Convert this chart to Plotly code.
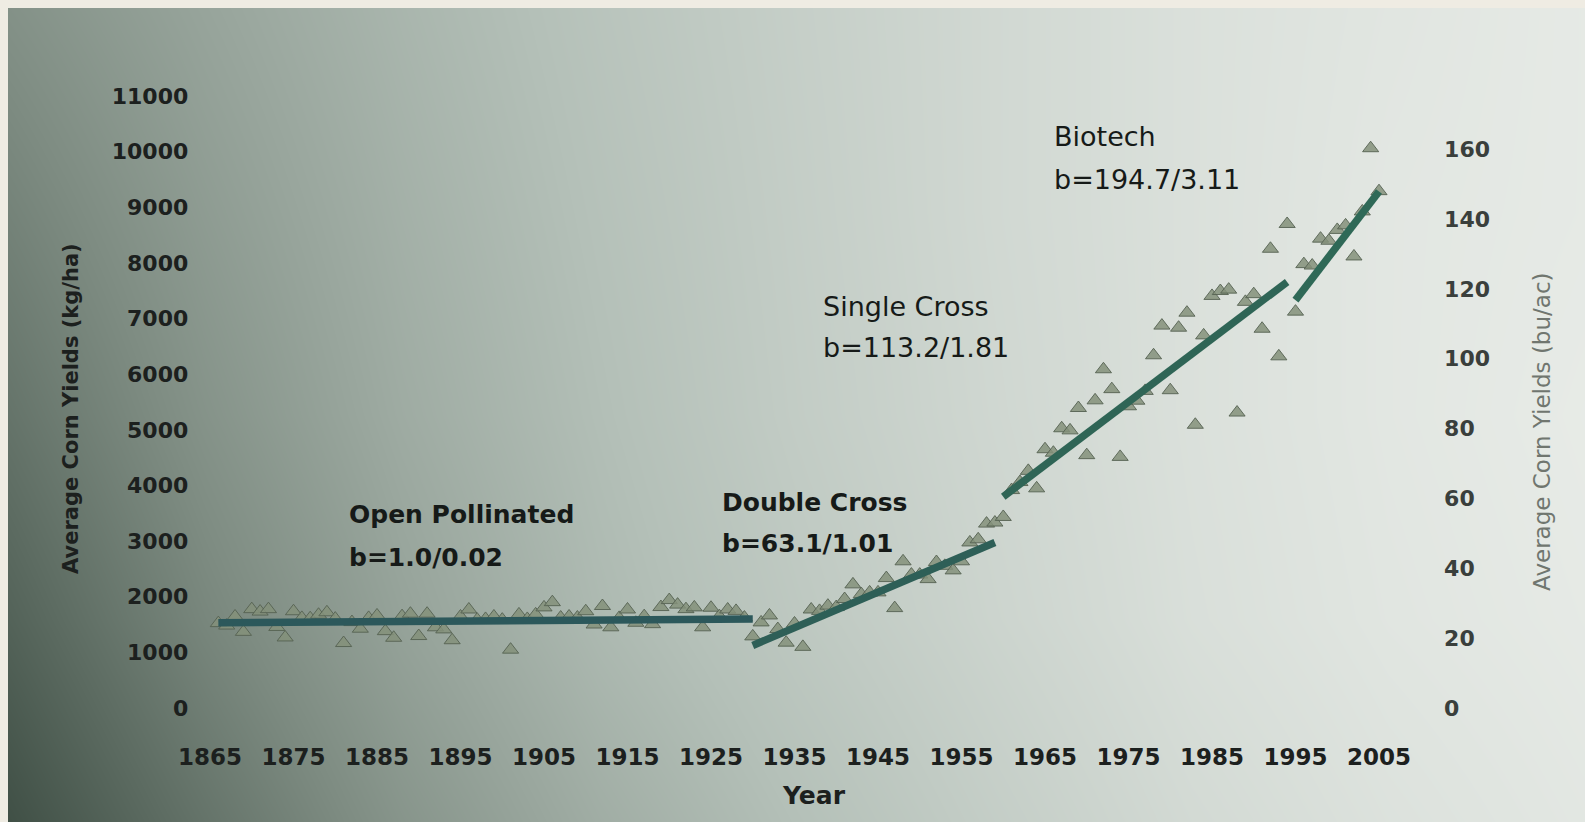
import plotly.graph_objects as go

# ---------------- data ----------------
years = list(range(1866, 2006))
yield_bu = [
    24.3, 23.6, 26.2, 21.8, 28.3, 27.6, 28.3, 23.2, 20.2, 27.7,   # 1866-1875
    25.8, 25.7, 26.7, 27.4, 25.6, 18.6, 24.6, 22.7, 25.8, 26.5,   # 1876-1885
    22.0, 20.1, 26.3, 27.0, 20.6, 27.0, 23.1, 22.5, 19.4, 26.2,   # 1886-1895
    28.2, 25.3, 25.5, 26.2, 25.3, 16.7, 26.8, 25.5, 26.8, 28.8,   # 1896-1905
    30.3, 25.9, 26.2, 25.9, 27.7, 23.9, 29.2, 23.1, 25.8, 28.2,   # 1906-1915
    24.4, 26.3, 24.0, 28.9, 30.9, 29.6, 28.3, 28.8, 23.1, 28.7,   # 1916-1925
    26.3, 28.2, 27.8, 25.9, 20.5, 24.5, 26.5, 22.6, 18.7, 24.2,   # 1926-1935
    17.5, 28.2, 27.8, 29.3, 28.9, 31.2, 35.4, 32.6, 33.1, 33.1,   # 1936-1945
    37.2, 28.6, 42.0, 38.2, 38.2, 36.9, 41.8, 40.7, 39.4, 42.0,   # 1946-1955
    47.4, 48.3, 52.8, 53.1, 54.7, 62.4, 64.7, 67.9, 62.9, 74.1,   # 1956-1965
    73.1, 80.1, 79.5, 85.9, 72.4, 88.1, 97.0, 91.3, 71.9, 86.4,   # 1966-1975
    88.0, 90.8, 101.0, 109.5, 91.0, 108.9, 113.2, 81.1, 106.7, 118.0,  # 1976-1985
    119.4, 119.8, 84.6, 116.3, 118.5, 108.6, 131.5, 100.7, 138.6, 113.5,  # 1986-1995
    127.1, 126.7, 134.4, 133.8, 136.9, 138.2, 129.3, 142.2, 160.3, 148.0,  # 1996-2005
]

seg_open_years = [1866, 1930]
seg_open_bu = [24.4, 25.5]
seg_double_years = [1930, 1959]
seg_double_bu = [17.9, 47.4]
seg_single_years = [1960, 1994]
seg_single_bu = [60.5, 122.0]
seg_biotech_years = [1995, 2005]
seg_biotech_bu = [116.8, 147.9]

x_ticks = list(range(1865, 2006, 10))
kg_ticks = list(range(0, 11001, 1000))
bu_ticks = list(range(0, 161, 20))

labels = [
    ("Open Pollinated", "b=1.0/0.02"),
    ("Double Cross", "b=63.1/1.01"),
    ("Single Cross", "b=113.2/1.81"),
    ("Biotech", "b=194.7/3.11"),
]

# ---------------- layout geometry ----------------
W, H = 1585, 822
KG_PER_BU = 62.77
X_RANGE = [1863, 2011]
Y_RANGE = [-200, 11200]
px_left, px_right = 193.3, 1429.1
px_top, px_bottom = 84.9, 719.1

fig = go.Figure()

# background gradient (dark at bottom-left, light at right)
bg_x = [0, 0.125, 0.25, 0.375, 0.5, 0.625, 0.75, 0.875, 1.0]
bg_y = [0, 0.25, 0.5, 0.75, 1.0]
bg_z = [
    [0.03, 0.22, 0.40, 0.54, 0.65, 0.75, 0.84, 0.90, 0.94],
    [0.13, 0.32, 0.48, 0.61, 0.71, 0.80, 0.88, 0.93, 0.96],
    [0.22, 0.39, 0.53, 0.64, 0.74, 0.82, 0.89, 0.94, 0.97],
    [0.30, 0.44, 0.56, 0.66, 0.75, 0.83, 0.89, 0.94, 0.96],
    [0.38, 0.49, 0.59, 0.68, 0.76, 0.83, 0.89, 0.93, 0.96],
]
fig.add_trace(go.Heatmap(
    x=bg_x, y=bg_y, z=bg_z, zsmooth="best", showscale=False, hoverinfo="skip",
    zmin=0, zmax=1,
    colorscale=[[0, "rgb(58,74,64)"], [0.35, "rgb(126,140,130)"],
                [0.65, "rgb(180,192,184)"], [1, "rgb(236,239,235)"]],
    xaxis="x", yaxis="y",
))

# empty trace so the kg/ha axis subplot exists
fig.add_trace(go.Scatter(x=[], y=[], xaxis="x2", yaxis="y2", showlegend=False,
                         hoverinfo="skip"))

# scatter of yields
fig.add_trace(go.Scatter(
    x=years, y=yield_bu, mode="markers", xaxis="x2", yaxis="y3",
    marker=dict(symbol="triangle-up", size=14, color="rgba(132,145,122,0.85)",
                line=dict(color="rgba(85,98,82,0.9)", width=1)),
    hoverinfo="skip", showlegend=False,
))

line_specs = [
    (seg_open_years, seg_open_bu, "#2c585b"),
    (seg_double_years, seg_double_bu, "#2e5f57"),
    (seg_single_years, seg_single_bu, "#2f6556"),
    (seg_biotech_years, seg_biotech_bu, "#2f6957"),
]
for xs, ys, col in line_specs:
    fig.add_trace(go.Scatter(
        x=xs, y=ys, mode="lines", xaxis="x2", yaxis="y3",
        line=dict(color=col, width=7.5), hoverinfo="skip", showlegend=False,
    ))

FONT = "DejaVu Sans"

# label annotations (pixel positions -> paper)
label_px = [(347, 514, 557, "bold", 25), (720, 502, 543, "bold", 25),
            (821, 306, 347, "normal", 27), (1052, 137, 179, "normal", 27)]
annotations = []
for (t1, t2), (px, py1, py2, wt, sz) in zip(labels, label_px):
    for txt, py in ((t1, py1), (t2, py2)):
        annotations.append(dict(
            text=txt, x=px / W, y=1 - py / H, xref="paper", yref="paper",
            xanchor="left", yanchor="middle", showarrow=False,
            font=dict(family=FONT, size=sz, color="#161a18", weight=wt),
        ))

annotations.append(dict(
    text="Average Corn Yields (kg/ha)", x=71 / W, y=1 - 409 / H, xref="paper", yref="paper",
    textangle=-90, showarrow=False, xanchor="center", yanchor="middle",
    font=dict(family=FONT, size=21, color="#1c201e", weight="bold"),
))
annotations.append(dict(
    text="Average Corn Yields (bu/ac)", x=1542 / W, y=1 - 432 / H, xref="paper", yref="paper",
    textangle=-90, showarrow=False, xanchor="center", yanchor="middle",
    font=dict(family=FONT, size=23, color="#70766f"),
))
annotations.append(dict(
    text="Year", x=814 / W, y=1 - 795 / H, xref="paper", yref="paper",
    showarrow=False, xanchor="center", yanchor="middle",
    font=dict(family=FONT, size=25, color="#1c201e", weight="bold"),
))

fig.update_layout(
    width=W, height=H,
    margin=dict(l=0, r=0, t=0, b=0, pad=0, autoexpand=False),
    paper_bgcolor="#efece3",
    plot_bgcolor="rgba(0,0,0,0)",
    showlegend=False,
    xaxis=dict(domain=[8 / W, 1], range=[0, 1], visible=False, fixedrange=True,
               automargin=False),
    yaxis=dict(domain=[0, 1 - 8 / H], range=[0, 1], visible=False, fixedrange=True,
               automargin=False),
    xaxis2=dict(
        domain=[px_left / W, px_right / W], range=X_RANGE, anchor="y2", automargin=False,
        tickvals=x_ticks, tickformat="d", showgrid=False, zeroline=False, showline=False,
        ticks="", ticklabelstandoff=22,
        tickfont=dict(family=FONT, size=23, color="#1c201e", weight="bold"),
    ),
    yaxis2=dict(
        domain=[1 - px_bottom / H, 1 - px_top / H], range=Y_RANGE, anchor="x2",
        automargin=False,
        tickvals=kg_ticks, tickformat="d", showgrid=False, zeroline=False, showline=False,
        ticks="", ticklabelstandoff=4,
        tickfont=dict(family=FONT, size=22, color="#1c201e", weight="bold"),
    ),
    yaxis3=dict(
        overlaying="y2", side="right", anchor="x2", automargin=False,
        range=[Y_RANGE[0] / KG_PER_BU, Y_RANGE[1] / KG_PER_BU],
        tickvals=bu_ticks, tickformat="d", showgrid=False, zeroline=False, showline=False,
        ticks="", ticklabelstandoff=14,
        tickfont=dict(family=FONT, size=22, color="#3a3f3c", weight="bold"),
    ),
    annotations=annotations,
)

fig.write_html(
    "out.html",
    config={"displayModeBar": False},
    post_script="document.body.style.margin='0px';"
                "document.body.style.background='#efece3';",
)
